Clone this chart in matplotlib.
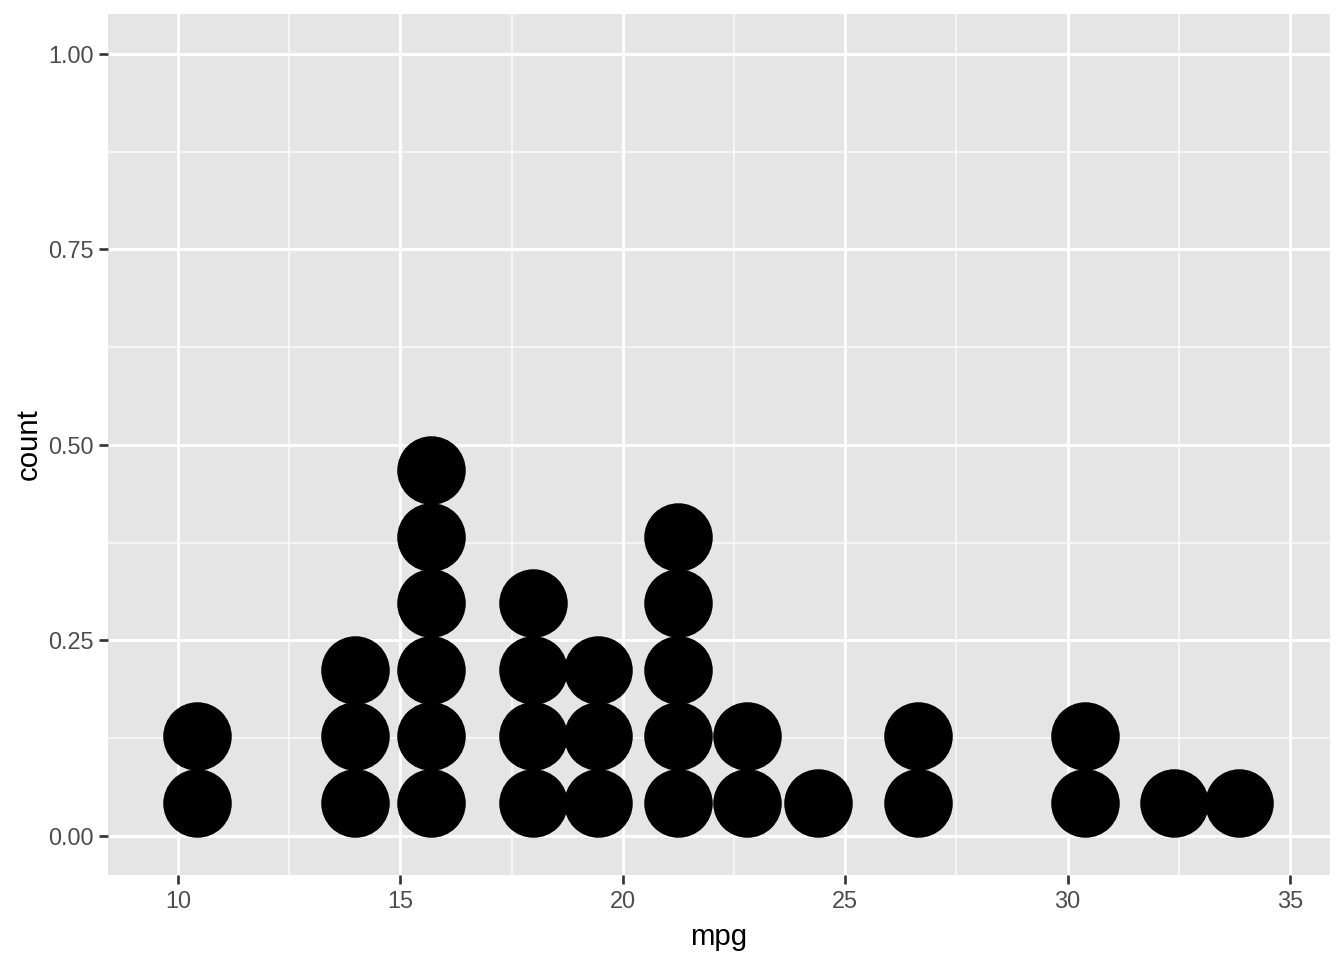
import numpy as np
import matplotlib.pyplot as plt

plt.rcParams['font.family'] = ['Liberation Sans', 'DejaVu Sans']

# bin centres (mpg) and number of cars stacked in each bin
bin_mpg = [10.43, 13.98, 15.69, 17.98, 19.44, 21.24, 22.79, 24.39, 26.64, 30.39, 32.39, 33.85]
bin_count = [2, 3, 6, 4, 3, 5, 2, 1, 2, 2, 1, 1]
x_ticks = [10, 15, 20, 25, 30, 35]
y_ticks = [0.00, 0.25, 0.50, 0.75, 1.00]

dot_step = 0.085  # stacking step on the count axis

fig = plt.figure(figsize=(7, 5), dpi=192)
ax = fig.add_axes([0.0804, 0.0885, 0.9092, 0.8969])
ax.set_facecolor('#E5E5E5')

xs, ys = [], []
for xc, n in zip(bin_mpg, bin_count):
    for k in range(n):
        xs.append(xc)
        ys.append((k + 0.5) * dot_step)
ax.scatter(xs, ys, s=660, color='black', linewidths=0, zorder=3)

ax.set_xlim(8.43, 35.9)
ax.set_ylim(-0.05, 1.051)
ax.set_xticks(x_ticks)
ax.set_xticklabels([str(t) for t in x_ticks])
ax.set_yticks(y_ticks)
ax.set_yticklabels([f'{t:.2f}' for t in y_ticks])
ax.set_xticks([12.5, 17.5, 22.5, 27.5, 32.5], minor=True)
ax.set_yticks([0.125, 0.375, 0.625, 0.875], minor=True)

ax.grid(which='major', color='white', linewidth=1.1)
ax.grid(which='minor', color='#FAFAFA', linewidth=0.6)
ax.set_axisbelow(True)
for sp in ax.spines.values():
    sp.set_visible(False)

ax.tick_params(which='major', length=3.5, width=1.0, color='#333333',
               labelcolor='#4D4D4D', labelsize=8.8, pad=2)
ax.tick_params(which='minor', length=0)

ax.set_xlabel('mpg', fontsize=11, labelpad=4)
ax.set_ylabel('count', fontsize=11, labelpad=2)

fig.savefig('out.png', dpi=192)
